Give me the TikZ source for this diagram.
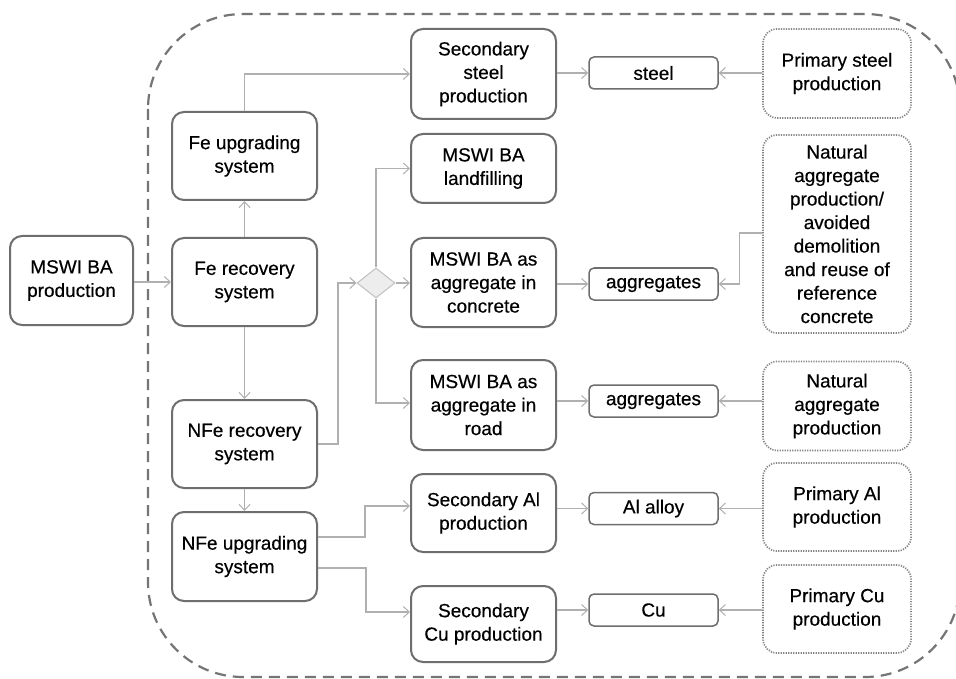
\documentclass[tikz,border=0pt]{standalone}
\usepackage{fontspec}
\setmainfont{Liberation Sans}[FakeBold=0.4]
\usetikzlibrary{shapes.geometric,arrows.meta,calc}
\definecolor{boxgray}{HTML}{6E6E6E}
\definecolor{linegray}{HTML}{B0B0B0}
\definecolor{dotgray}{HTML}{858585}
\definecolor{dashgray}{HTML}{757575}
\tikzset{
  every node/.style={font=\fontsize{19}{23.5}\selectfont, align=center, text=black, inner sep=0pt},
  procbox/.style={draw=boxgray, line width=2pt, rounded corners=12pt, minimum width=145pt},
  prodbox/.style={draw=boxgray, line width=1.5pt, rounded corners=5pt, minimum width=129pt, minimum height=32pt},
  extbox/.style={draw=dotgray, line width=1.7pt, dash pattern=on 1.2pt off 1.3pt, rounded corners=14pt, minimum width=148pt},
  conn/.style={draw=linegray, line width=1.3pt, -{Straight Barb[length=6pt,width=11pt,line width=1pt]}},
  boundary/.style={draw=dashgray, line width=2.2pt, dash pattern=on 11pt off 7pt, rounded corners=95pt}
}
\begin{document}
\begin{tikzpicture}[x=1pt,y=-1pt]
\useasboundingbox (0,0) rectangle (956,679);
\fill[white] (0,0) rectangle (956,679);
\draw[boundary] (148,14) rectangle (960,677);

% left
\node[procbox, minimum width=123pt, minimum height=89pt] (prod) at (71.5,280.5) {MSWI BA\\production};
% column 2
\node[procbox, minimum height=88pt] (feup) at (244.5,156) {Fe upgrading\\system};
\node[procbox, minimum height=88pt] (ferec) at (244.5,282) {Fe recovery\\system};
\node[procbox, minimum height=88pt] (nferec) at (244.5,444) {NFe recovery\\system};
\node[procbox, minimum height=89pt] (nfeup) at (244.5,556.5) {NFe upgrading\\system};
% diamond
\node[diamond, draw=linegray!80, fill=black!7, line width=1pt, minimum width=38pt, minimum height=30pt] (dia) at (376,283) {};
% column 3
\node[procbox, minimum height=90pt] (secsteel) at (483.5,74) {Secondary\\steel\\production};
\node[procbox, minimum height=69pt] (landfill) at (483.5,168.5) {MSWI BA\\landfilling};
\node[procbox, minimum height=89pt] (concrete) at (483.5,282.5) {MSWI BA as\\aggregate in\\concrete};
\node[procbox, minimum height=90pt] (road) at (483.5,405) {MSWI BA as\\aggregate in\\road};
\node[procbox, minimum height=78pt] (secAl) at (483.5,513) {Secondary Al\\production};
\node[procbox, minimum height=76pt] (secCu) at (483.5,624) {Secondary\\Cu production};
% products
\node[prodbox] (steel) at (653.5,73) {steel};
\node[prodbox] (agg1) at (653.5,284) {aggregates};
\node[prodbox] (agg2) at (653.5,401) {aggregates};
\node[prodbox] (al) at (653.5,508.5) {Al alloy};
\node[prodbox] (cu) at (653.5,610) {Cu};
% external
\node[extbox, minimum height=89pt] (pristeel) at (837,73.5) {Primary steel\\production};
\node[extbox, minimum height=198pt] (natavoid) at (837,234) {Natural\\aggregate\\production/\\avoided\\demolition\\and reuse of\\reference\\concrete};
\node[extbox, minimum height=89pt] (natagg) at (837,406) {Natural\\aggregate\\production};
\node[extbox, minimum height=88pt] (priAl) at (837,507) {Primary Al\\production};
\node[extbox, minimum height=88pt] (priCu) at (837,609) {Primary Cu\\production};

% connectors
\draw[conn] (prod.east |- ferec) -- (ferec.west);
\draw[conn] (ferec) -- (feup);
\draw[conn] (feup.north) |- (secsteel.west);
\draw[conn] (ferec) -- (nferec);
\draw[conn] (nferec) -- (nfeup);
\draw[conn] (nferec.east) -- ++(20,0) |- (dia.west);
\draw[conn] (dia.north) |- (landfill.west);
\draw[conn] (dia.east) -- (concrete.west |- dia.east);
\draw[conn] (dia.south) |- ($(road.west)+(0,-2)$);
\draw[conn] ($(nfeup.east)+(0,-19.5)$) -- ++(47,0) |- ($(secAl.west)+(0,-7)$);
\draw[conn] ($(nfeup.east)+(0,11.5)$) -- ++(48,0) |- ($(secCu.west)+(0,-12)$);

\draw[conn] (secsteel.east |- steel) -- (steel.west);
\draw[conn] (pristeel.west |- steel) -- (steel.east);
\draw[conn] (concrete.east |- agg1) -- (agg1.west);
\draw[conn] ($(natavoid.west)+(0,-1)$) -- ++(-23,0) |- (agg1.east);
\draw[conn] (road.east |- agg2) -- (agg2.west);
\draw[conn] (natagg.west |- agg2) -- (agg2.east);
\draw[conn] (secAl.east |- al) -- (al.west);
\draw[conn] (priAl.west |- al) -- (al.east);
\draw[conn] (secCu.east |- cu) -- (cu.west);
\draw[conn] (priCu.west |- cu) -- (cu.east);
\end{tikzpicture}
\end{document}
